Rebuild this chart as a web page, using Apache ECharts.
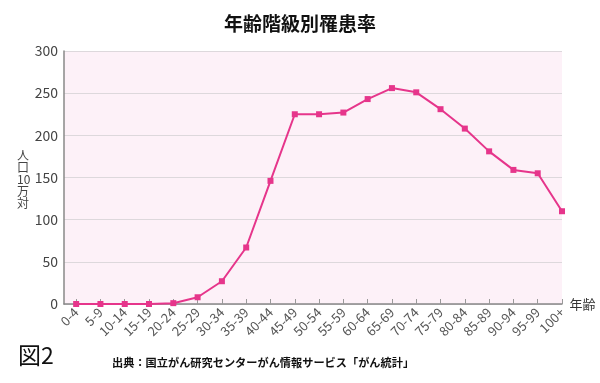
<!DOCTYPE html>
<html><head><meta charset="utf-8">
<script src="https://cdn.jsdelivr.net/npm/echarts@6/dist/echarts.min.js"></script>
<style>html,body{margin:0;padding:0;background:#fff}#c{width:600px;height:383px}</style>
</head><body><div id="c"></div>
<script>
var categories = ['0-4','5-9','10-14','15-19','20-24','25-29','30-34','35-39','40-44','45-49','50-54','55-59','60-64','65-69','70-74','75-79','80-84','85-89','90-94','95-99','100+'];
var rates = [0,0,0,0,1,8,27,67,146,225,225,227,243,256,251,231,208,181,159,155,110];
var yTicks = [0,50,100,150,200,250,300];

var idx = categories.map(function(_, i){ return i; });
var chart = echarts.init(document.getElementById('c'));
var font = '"Noto Sans CJK JP", "Noto Sans", sans-serif';
chart.setOption({
  animation: false,
  title: {
    text: '年齢階級別罹患率', left: 'center', top: 9,
    textStyle: {fontFamily: font, fontSize: 19, fontWeight: 'bold', color: '#111'}
  },
  grid: {left: 64, right: 38, top: 51, bottom: 79, show: true, backgroundColor: '#fdf1f8', borderWidth: 0},
  xAxis: {
    type: 'value', min: -0.5, max: 20,
    name: '年齢', nameLocation: 'end', nameGap: 2,
    nameTextStyle: {fontFamily: font, fontSize: 13, color: '#333', verticalAlign: 'middle'},
    axisLine: {show: true, onZero: false, lineStyle: {color: '#888', width: 1.5}},
    axisTick: {show: true, inside: true, length: 5, customValues: idx, lineStyle: {color: '#999'}},
    splitLine: {show: false},
    axisLabel: {
      customValues: idx, rotate: 45, margin: 6,
      fontFamily: font, fontSize: 13, color: '#555',
      formatter: function(v){ return categories[Math.round(v)]; }
    }
  },
  yAxis: {
    type: 'value', min: 0, max: 300, interval: 50,
    axisLine: {show: true, onZero: false, lineStyle: {color: '#888', width: 1.5}},
    axisTick: {show: false},
    splitLine: {show: true, lineStyle: {color: '#ddd8dc', width: 1.2}},
    axisLabel: {
      customValues: yTicks, margin: 6,
      fontFamily: font, fontSize: 14, color: '#444'
    }
  },
  series: [{
    type: 'line',
    data: rates.map(function(v, i){ return [i, v]; }),
    symbol: 'rect', symbolSize: 6,
    lineStyle: {color: '#e6358b', width: 2},
    itemStyle: {color: '#e6358b'}
  }],
  graphic: [
    {type: 'text', left: 17, top: 149, style: {text: '人\n口\n10\n万\n対', font: '12px ' + font, fill: '#444', align: 'center', lineHeight: 12}},
    {type: 'text', left: 18, top: 344, style: {text: '図2', font: '23px ' + font, fill: '#111'}},
    {type: 'text', left: 112, top: 357, style: {text: '出典：国立がん研究センターがん情報サービス「がん統計」', font: 'bold 11.2px ' + font, fill: '#111'}}
  ]
});
</script></body></html>
